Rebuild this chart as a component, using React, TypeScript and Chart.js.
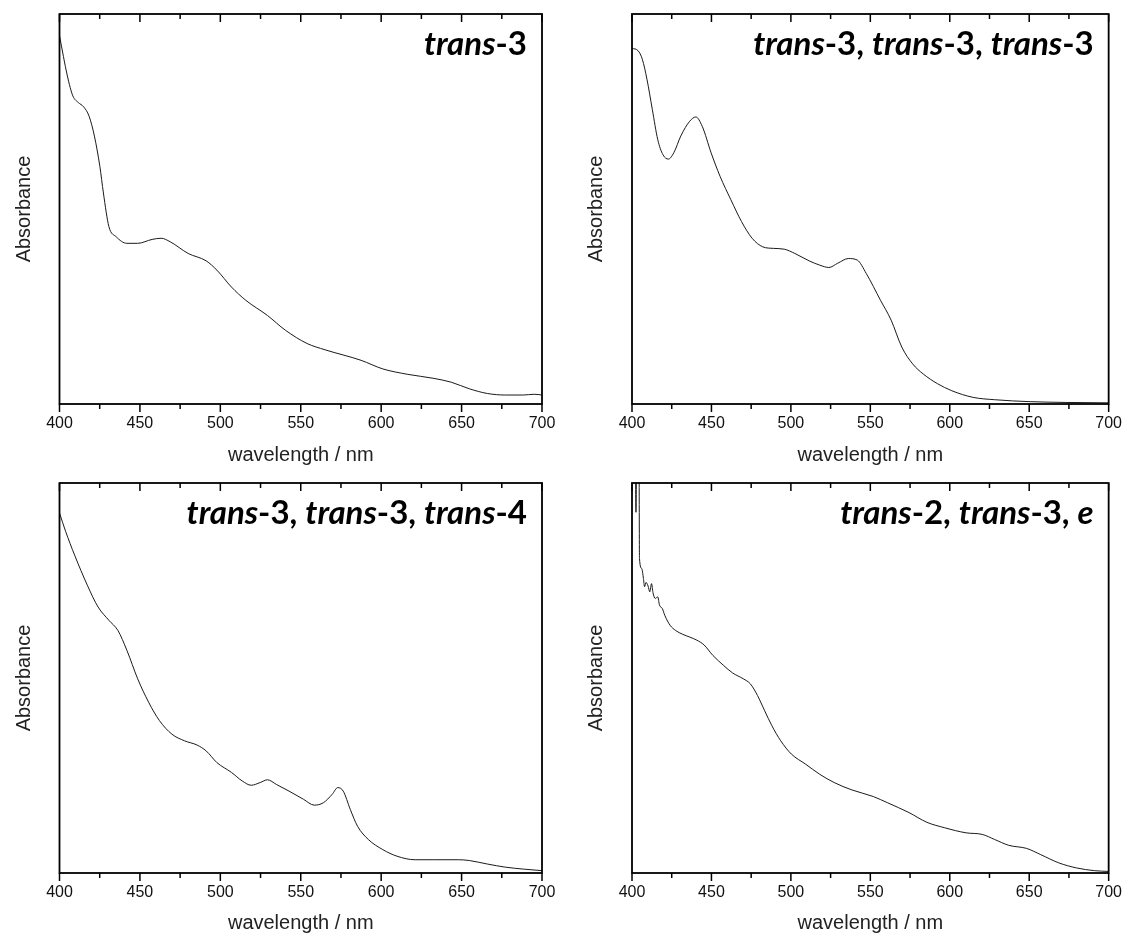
import { useEffect, useRef } from 'react';
import { Chart, registerables } from 'chart.js';

Chart.register(...registerables);

// ---- spectra (relative absorbance vs wavelength in nm) ----

const trans3Wavelength = [
  400, 404.9, 408.3, 411.7, 415, 418.4, 421.7, 425.1, 427.3, 430.7, 435.2, 441.9, 448.6,
  457.6, 463.2, 468.8, 480, 491.2, 497.9, 506.9, 515.8, 529.3, 540.5, 554, 565.1, 587.5,
  601, 616.6, 632.3, 643.5, 654.8, 666, 677.2, 688.4, 695.1, 700,
];
const trans3Absorbance = [
  0.944, 0.841, 0.79, 0.773, 0.762, 0.738, 0.687, 0.609, 0.541, 0.455, 0.429, 0.412, 0.412,
  0.422, 0.425, 0.416, 0.386, 0.367, 0.343, 0.3, 0.266, 0.227, 0.189, 0.155, 0.139, 0.112,
  0.09, 0.076, 0.066, 0.056, 0.039, 0.027, 0.023, 0.023, 0.025, 0.023,
];

const triTrans3Wavelength = [
  400, 403.8, 406.5, 409.4, 412.8, 416.2, 419.5, 422.9, 426.3, 430.7, 436.3, 440.2, 444.2,
  449.8, 455.4, 462.2, 468.9, 475.6, 482.3, 489.1, 495.8, 502.5, 511.5, 518.2, 523.9,
  529.5, 536.2, 541.8, 547.4, 556.4, 563.1, 569.8, 576.6, 583.3, 592.3, 601.3, 614.7,
  628.2, 650.6, 673.1, 700,
];
const triTrans3Absorbance = [
  0.912, 0.906, 0.884, 0.833, 0.755, 0.678, 0.639, 0.628, 0.644, 0.687, 0.725, 0.736, 0.712,
  0.644, 0.584, 0.524, 0.468, 0.425, 0.403, 0.399, 0.397, 0.386, 0.367, 0.356, 0.35,
  0.361, 0.373, 0.369, 0.335, 0.266, 0.215, 0.146, 0.103, 0.077, 0.052, 0.034, 0.017,
  0.011, 0.006, 0.004, 0.003,
];

const trans334Wavelength = [
  400, 403.8, 409.4, 417.3, 424, 430.7, 436.3, 441.9, 448.6, 455.4, 462.1, 469.9, 477.7,
  485.6, 491.2, 497.9, 506.9, 513.6, 519.2, 524.8, 529.3, 534.9, 542.7, 551.7, 558.4,
  564, 569.6, 573, 576.4, 580.8, 585.3, 592, 601, 609.9, 621.1, 632.3, 648, 654.8, 666,
  677.2, 688.4, 700,
];
const trans334Absorbance = [
  0.923, 0.876, 0.815, 0.738, 0.682, 0.648, 0.622, 0.571, 0.498, 0.438, 0.391, 0.356, 0.339,
  0.328, 0.313, 0.283, 0.258, 0.236, 0.225, 0.232, 0.239, 0.227, 0.21, 0.189, 0.174,
  0.18, 0.202, 0.219, 0.21, 0.163, 0.12, 0.086, 0.06, 0.043, 0.034, 0.034, 0.034, 0.032,
  0.023, 0.015, 0.01, 0.006,
];

const trans23eWavelength = [
  400, 401.8, 402.5, 403.2, 404.3, 404.7, 406.1, 407.2, 407.9, 408.8, 410.1, 411.2, 412.3,
  413.2, 414.6, 416.2, 417.3, 419.1, 420.6, 424, 427.4, 431.9, 436.3, 440.8, 445.3, 450.9,
  457.7, 463.3, 470, 474.5, 479, 483.5, 488, 493.6, 500.3, 509.3, 518.2, 527.2, 538.4,
  551.9, 560.9, 574.3, 585.6, 596.8, 610.3, 620.4, 628.2, 637.1, 648.4, 657.3, 668.6,
  679.8, 691, 700,
];
const trans23eAbsorbance = [
  1.3, 1.3, 0.925, 1.3, 1.3, 0.807, 0.781, 0.755, 0.734, 0.745, 0.736, 0.721, 0.742,
  0.719, 0.704, 0.708, 0.687, 0.678, 0.661, 0.635, 0.622, 0.612, 0.605, 0.597, 0.585, 0.558,
  0.532, 0.513, 0.498, 0.485, 0.455, 0.416, 0.378, 0.339, 0.305, 0.279, 0.253, 0.232, 0.213,
  0.196, 0.18, 0.155, 0.13, 0.116, 0.103, 0.099, 0.086, 0.071, 0.063, 0.047, 0.026,
  0.013, 0.006, 0.004,
];

// ---- panel headings: [text, italic] pieces ----
type Piece = [string, boolean];

const headingTrans3: Piece[] = [['trans', true], ['-3', false]];
const headingTriTrans3: Piece[] = [
  ['trans', true], ['-3, ', false], ['trans', true], ['-3, ', false], ['trans', true], ['-3', false],
];
const headingTrans334: Piece[] = [
  ['trans', true], ['-3, ', false], ['trans', true], ['-3, ', false], ['trans', true], ['-4', false],
];
const headingTrans23e: Piece[] = [
  ['trans', true], ['-2, ', false], ['trans', true], ['-3, ', false], ['e', true],
];

const X_TITLE = 'wavelength / nm';
const Y_TITLE = 'Absorbance';

const CANVAS_W = 566;
const CANVAS_H = 468;
const TEXT_FONT = "'Liberation Sans', Arial, sans-serif";
const HEADING_FONT = "Lato, 'Open Sans', sans-serif";

// Frame around the plot area plus tick marks on the bottom (outward) and top (inward) edges
const frameTicksPlugin = {
  id: 'frameTicks',
  afterDraw(chart: any) {
    const { ctx, chartArea: a, scales } = chart;
    const xs = scales.x;
    ctx.save();
    ctx.strokeStyle = '#000';
    ctx.lineWidth = 1.8;
    ctx.strokeRect(a.left, a.top, a.right - a.left, a.bottom - a.top);
    ctx.lineWidth = 1.5;
    ctx.beginPath();
    xs.ticks.forEach((t: any) => {
      const px = xs.getPixelForValue(t.value);
      const len = t.value % 50 === 0 ? 8 : 5;
      ctx.moveTo(px, a.bottom);
      ctx.lineTo(px, a.bottom + len);
      ctx.moveTo(px, a.top);
      ctx.lineTo(px, a.top + len);
    });
    ctx.stroke();
    ctx.restore();
  },
};

// Mixed italic / upright bold heading, right-aligned inside the plot area
const headingPlugin = {
  id: 'panelHeading',
  afterDraw(chart: any, _args: any, opts: any) {
    const pieces: Piece[] = opts.pieces || [];
    if (!pieces.length) return;
    const { ctx, chartArea: a } = chart;
    const size = opts.size;
    const fontFor = (it: boolean) => `${it ? 'italic ' : ''}bold ${size}px ${HEADING_FONT}`;
    ctx.save();
    ctx.fillStyle = '#000';
    ctx.textBaseline = 'alphabetic';
    let total = 0;
    const widths = pieces.map(([t, it]) => {
      ctx.font = fontFor(it);
      const w = ctx.measureText(t).width;
      total += w;
      return w;
    });
    let x = a.right - opts.inset - total;
    const y = a.top + opts.baseline;
    pieces.forEach(([t, it], i) => {
      ctx.font = fontFor(it);
      ctx.fillText(t, x, y);
      x += widths[i];
    });
    ctx.restore();
  },
};

type PanelProps = {
  pageLeft: number;
  pageTop: number;
  area: { left: number; right: number; top: number; bottom: number };
  yTitleInset: number;
  wavelength: number[];
  absorbance: number[];
  heading: Piece[];
};

function SpectrumPanel(p: PanelProps) {
  const ref = useRef<HTMLCanvasElement | null>(null);

  useEffect(() => {
    if (!ref.current) return;
    const points = p.wavelength.map((w, i) => ({ x: w, y: p.absorbance[i] }));
    const chart = new Chart(ref.current, {
      type: 'line',
      data: {
        datasets: [
          {
            data: points,
            borderColor: '#1a1a1a',
            borderWidth: 1,
            pointRadius: 0,
            fill: false,
            cubicInterpolationMode: 'monotone',
          },
        ],
      },
      options: {
        animation: false,
        responsive: false,
        devicePixelRatio: 1,
        events: [],
        layout: {
          padding: { top: p.area.top, right: CANVAS_W - p.area.right, left: 0, bottom: 0 },
        },
        plugins: {
          legend: { display: false },
          tooltip: { enabled: false },
          panelHeading: { pieces: p.heading, size: 33, inset: 15, baseline: 41 },
        } as any,
        scales: {
          x: {
            type: 'linear',
            min: 400,
            max: 700,
            grid: { display: false, drawTicks: false },
            border: { display: false },
            ticks: {
              stepSize: 25,
              autoSkip: false,
              maxRotation: 0,
              padding: 10,
              color: '#111',
              font: { family: TEXT_FONT, size: 16 },
              callback: (v: any) => (Number(v) % 50 === 0 ? String(v) : ''),
            },
            title: {
              display: true,
              text: X_TITLE,
              color: '#222',
              font: { family: TEXT_FONT, size: 20 },
              padding: { top: 0, bottom: 1 },
            },
            afterFit: (s: any) => {
              s.height = CANVAS_H - p.area.bottom;
            },
          },
          y: {
            type: 'linear',
            min: 0,
            max: 1,
            grid: { display: false, drawTicks: false },
            border: { display: false },
            ticks: { display: false },
            title: {
              display: true,
              text: Y_TITLE,
              color: '#222',
              font: { family: TEXT_FONT, size: 20 },
              padding: { top: p.yTitleInset, bottom: 0 },
            },
            afterFit: (s: any) => {
              s.width = p.area.left;
            },
          },
        },
      },
      plugins: [frameTicksPlugin, headingPlugin],
    });
    return () => chart.destroy();
  }, []);

  return (
    <canvas
      ref={ref}
      width={CANVAS_W}
      height={CANVAS_H}
      style={{
        position: 'absolute',
        left: p.pageLeft,
        top: p.pageTop,
        width: CANVAS_W,
        height: CANVAS_H,
      }}
    />
  );
}

export default function App() {
  return (
    <div
      style={{
        position: 'absolute',
        left: 0,
        top: 0,
        width: 1132,
        height: 936,
        background: '#fff',
      }}
    >
      <SpectrumPanel
        pageLeft={0}
        pageTop={0}
        area={{ left: 59.5, right: 542, top: 14, bottom: 404 }}
        yTitleInset={12}
        wavelength={trans3Wavelength}
        absorbance={trans3Absorbance}
        heading={headingTrans3}
      />
      <SpectrumPanel
        pageLeft={566}
        pageTop={0}
        area={{ left: 66, right: 549, top: 14, bottom: 404 }}
        yTitleInset={18}
        wavelength={triTrans3Wavelength}
        absorbance={triTrans3Absorbance}
        heading={headingTriTrans3}
      />
      <SpectrumPanel
        pageLeft={0}
        pageTop={468}
        area={{ left: 59.5, right: 542, top: 15, bottom: 405 }}
        yTitleInset={12}
        wavelength={trans334Wavelength}
        absorbance={trans334Absorbance}
        heading={headingTrans334}
      />
      <SpectrumPanel
        pageLeft={566}
        pageTop={468}
        area={{ left: 66, right: 549, top: 15, bottom: 405 }}
        yTitleInset={18}
        wavelength={trans23eWavelength}
        absorbance={trans23eAbsorbance}
        heading={headingTrans23e}
      />
    </div>
  );
}
